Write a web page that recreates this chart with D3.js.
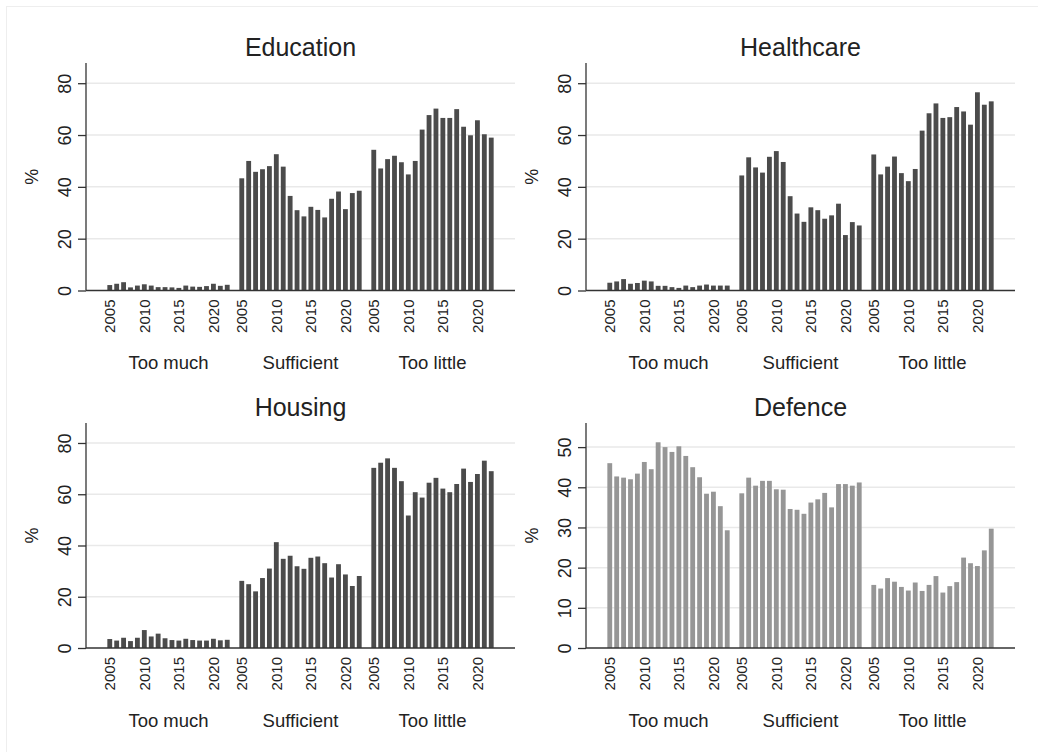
<!DOCTYPE html>
<html lang="en">
<head>
    <meta charset="UTF-8">
    <title>Spending opinion by year</title>
    <script src="https://d3js.org/d3.v7.min.js"></script>
    <style>
        body {
            margin: 0;
            padding: 0;
            background: #fff;
        }
        svg {
            display: block;
            font-family: "Liberation Sans", Arial, sans-serif;
        }
        .grid line {
            stroke: #e9e9e9;
            stroke-width: 1.5px;
        }
    </style>
</head>
<body>
    <svg id="chart" width="1038" height="752"></svg>

    <script>
        const years = d3.range(2005, 2023);
        const groups = ["Too much", "Sufficient", "Too little"];
        const yearTicks = [2005, 2010, 2015, 2020];

        const eduTooMuch = [2.1, 2.6, 3.2, 1.2, 1.9, 2.4, 1.9, 1.3, 1.3, 1.2, 1.0, 1.9, 1.5, 1.4, 1.7, 2.6, 1.8, 2.2];
        const eduSufficient = [43.3, 50.0, 45.8, 46.8, 48.0, 52.6, 47.8, 36.5, 31.0, 28.6, 32.3, 31.1, 28.2, 35.4, 38.2, 31.4, 37.6, 38.5];
        const eduTooLittle = [54.3, 47.1, 50.7, 52.0, 49.5, 44.8, 50.0, 62.1, 67.7, 70.2, 66.6, 66.6, 70.0, 63.2, 59.9, 65.7, 60.3, 59.0];

        const healthTooMuch = [3.0, 3.5, 4.4, 2.6, 2.9, 3.8, 3.5, 1.8, 1.8, 1.3, 1.0, 1.9, 1.3, 1.9, 2.3, 1.9, 1.9, 1.9];
        const healthSufficient = [44.4, 51.4, 47.5, 45.5, 51.6, 53.8, 49.6, 36.4, 29.7, 26.5, 32.1, 31.0, 27.7, 29.0, 33.5, 21.4, 26.4, 25.1];
        const healthTooLittle = [52.5, 44.8, 47.8, 51.7, 45.3, 42.2, 46.9, 61.7, 68.4, 72.2, 66.6, 66.9, 70.8, 69.1, 64.0, 76.5, 71.7, 73.0];

        const housingTooMuch = [3.5, 2.9, 4.0, 2.7, 4.0, 7.0, 4.5, 5.6, 3.8, 3.1, 2.9, 3.6, 3.1, 2.9, 2.9, 3.6, 3.0, 3.2];
        const housingSufficient = [26.2, 24.9, 22.1, 27.3, 31.0, 41.3, 34.8, 36.0, 31.9, 30.9, 35.2, 35.7, 33.1, 27.5, 32.7, 28.7, 24.2, 28.1];
        const housingTooLittle = [70.3, 72.3, 74.0, 70.3, 65.1, 51.7, 60.8, 58.7, 64.5, 66.4, 62.2, 60.8, 64.0, 70.0, 64.8, 67.9, 73.1, 69.0];

        const defenceTooMuch = [46.0, 42.7, 42.4, 42.0, 43.4, 46.3, 44.5, 51.2, 50.0, 48.8, 50.2, 47.8, 45.0, 42.5, 38.4, 38.9, 35.3, 29.3];
        const defenceSufficient = [38.5, 42.4, 40.4, 41.6, 41.6, 39.5, 39.4, 34.6, 34.4, 33.4, 36.2, 37.0, 38.6, 35.0, 40.8, 40.8, 40.4, 41.2];
        const defenceTooLittle = [15.7, 14.8, 17.4, 16.5, 15.2, 14.3, 16.3, 14.2, 15.7, 17.9, 13.8, 15.4, 16.4, 22.5, 21.1, 20.4, 24.3, 29.7];

        const panels = [
            { title: "Education", series: [eduTooMuch, eduSufficient, eduTooLittle], max: 87.8, ticks: [0, 20, 40, 60, 80], color: "#4b4b4b", col: 0, row: 0 },
            { title: "Healthcare", series: [healthTooMuch, healthSufficient, healthTooLittle], max: 87.8, ticks: [0, 20, 40, 60, 80], color: "#4b4b4b", col: 1, row: 0 },
            { title: "Housing", series: [housingTooMuch, housingSufficient, housingTooLittle], max: 87.8, ticks: [0, 20, 40, 60, 80], color: "#4b4b4b", col: 0, row: 1 },
            { title: "Defence", series: [defenceTooMuch, defenceSufficient, defenceTooLittle], max: 56, ticks: [0, 10, 20, 30, 40, 50], color: "#969696", col: 1, row: 1 }
        ];

        const svg = d3.select("#chart");

        // faint outer frame
        svg.append("rect")
            .attr("x", 6.5).attr("y", 6.5)
            .attr("width", 1100).attr("height", 900)
            .attr("fill", "none")
            .attr("stroke", "#eeeeee");

        const plotW = 429;
        const plotLeft = [86, 586];
        const plotTop = [63, 423];
        const plotBottom = [290.5, 648];

        panels.forEach(function(p) {
            const x0 = plotLeft[p.col];
            const top = plotTop[p.row];
            const bottom = plotBottom[p.row];

            const g = svg.append("g");

            const y = d3.scaleLinear().domain([0, p.max]).range([bottom, top]);

            const xGroup = d3.scaleBand()
                .domain(groups)
                .range([x0, x0 + plotW])
                .paddingInner(0.042)
                .paddingOuter(0.146);

            const xYear = d3.scaleBand()
                .domain(years)
                .range([0, xGroup.bandwidth()])
                .padding(0.3);

            // gridlines
            g.append("g")
                .attr("class", "grid")
                .selectAll("line")
                .data(p.ticks.filter(t => t > 0))
                .join("line")
                .attr("x1", x0).attr("x2", x0 + plotW)
                .attr("y1", d => y(d)).attr("y2", d => y(d));

            // bars
            groups.forEach(function(grp, gi) {
                g.append("g")
                    .attr("transform", `translate(${xGroup(grp)},0)`)
                    .selectAll("rect")
                    .data(p.series[gi])
                    .join("rect")
                    .attr("x", (d, i) => xYear(years[i]))
                    .attr("width", xYear.bandwidth())
                    .attr("y", d => y(d))
                    .attr("height", d => bottom - y(d))
                    .attr("fill", p.color);

                // year labels
                g.append("g")
                    .selectAll("text")
                    .data(yearTicks)
                    .join("text")
                    .attr("transform", d => `translate(${xGroup(grp) + xYear(d) + xYear.bandwidth() / 2},${bottom + 9}) rotate(-90)`)
                    .attr("text-anchor", "end")
                    .attr("dy", "0.35em")
                    .attr("font-size", 15)
                    .attr("fill", "#222")
                    .text(d => d);

                // group label
                g.append("text")
                    .attr("x", xGroup(grp) + xGroup.bandwidth() / 2)
                    .attr("y", bottom + 78.5)
                    .attr("text-anchor", "middle")
                    .attr("font-size", 18.5)
                    .attr("fill", "#222")
                    .text(grp);
            });

            // y axis
            const yAxis = d3.axisLeft(y).tickValues(p.ticks).tickSize(8).tickPadding(7);
            const ax = g.append("g")
                .attr("transform", `translate(${x0},0)`)
                .call(yAxis);
            ax.select(".domain").attr("stroke", "#333").attr("stroke-width", 1.3).attr("d", `M0,${top}V${bottom}`);
            ax.selectAll(".tick line").attr("stroke", "#333").attr("stroke-width", 1.3);
            ax.selectAll(".tick text")
                .attr("font-family", "Liberation Sans, Arial, sans-serif")
                .attr("font-size", 18)
                .attr("fill", "#222")
                .attr("text-anchor", "middle")
                .attr("dy", "0.35em")
                .attr("x", 0).attr("y", 0)
                .attr("transform", "translate(-21,0) rotate(-90)");

            // baseline
            g.append("line")
                .attr("x1", x0).attr("x2", x0 + plotW)
                .attr("y1", bottom).attr("y2", bottom)
                .attr("stroke", "#333").attr("stroke-width", 1.3);

            // y label
            g.append("text")
                .attr("transform", `translate(${x0 - 54},${(top + bottom) / 2}) rotate(-90)`)
                .attr("text-anchor", "middle")
                .attr("dy", "0.35em")
                .attr("font-size", 18)
                .attr("fill", "#222")
                .text("%");

            // title
            g.append("text")
                .attr("x", x0 + plotW / 2)
                .attr("y", top - 7)
                .attr("text-anchor", "middle")
                .attr("font-size", 25)
                .attr("fill", "#222")
                .text(p.title);
        });
    </script>
</body>
</html>
